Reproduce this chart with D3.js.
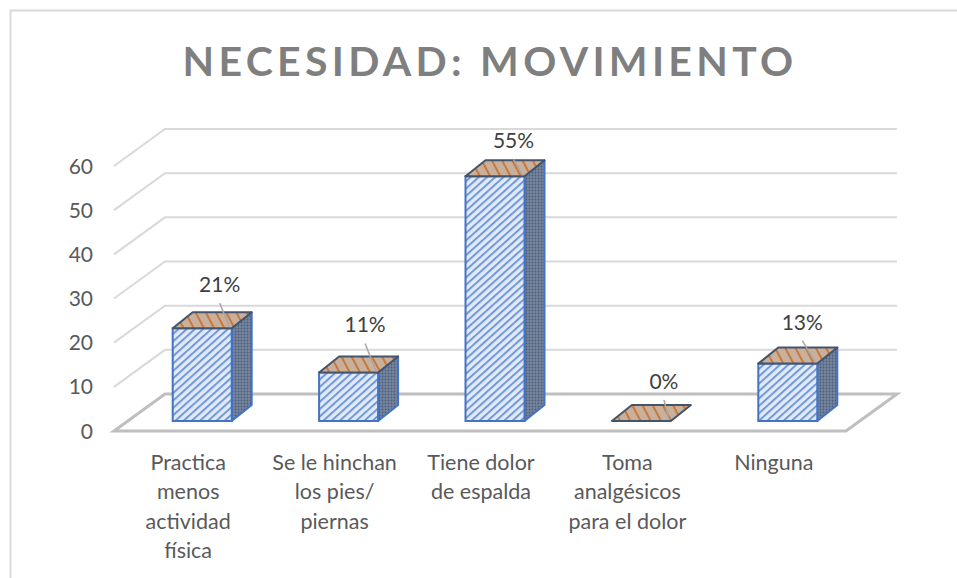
<!DOCTYPE html>
<html><head><meta charset="utf-8">
<script src="https://cdnjs.cloudflare.com/ajax/libs/d3/7.8.5/d3.min.js"></script>
<style>html,body{margin:0;padding:0;background:#fff}svg{display:block}text{font-family:Lato,"Open Sans",sans-serif}</style>
</head><body><svg id="c" width="957" height="578"></svg>
<script>
const titleText = "NECESIDAD: MOVIMIENTO";
const categories = [
  ["Practica","menos","actividad","física"],
  ["Se le hinchan","los pies/","piernas"],
  ["Tiene dolor","de espalda"],
  ["Toma","analgésicos","para el dolor"],
  ["Ninguna"]
];
const values = [21, 11, 55.4, 0, 13];
const valueLabels = ["21%", "11%", "55%", "0%", "13%"];
const yTicks = [0, 10, 20, 30, 40, 50, 60];

const labelShift = [[-12,-43],[-13,-47],[-11,-35],[-7,-39],[-15,-41]];
const svg = d3.select("#c");
const W = 957, H = 578;
const x = d3.scaleBand().domain(d3.range(categories.length)).range([114, 846]);
const y = d3.scaleLinear().domain([0, 60]).range([431, 166]);
const floor = {dx: 51, dy: -37};
const depth = {dx: 20, dy: -16};
const barInset = {dx: 15, dy: -10};
const barW = 59;

const defs = svg.append("defs");
const frontPat = defs.append("pattern").attr("id","pf").attr("width",5.5).attr("height",5.5)
  .attr("patternUnits","userSpaceOnUse").attr("patternTransform","rotate(-42)");
frontPat.append("rect").attr("width",5.5).attr("height",5.5).attr("fill","#e2eaf7");
frontPat.append("rect").attr("width",5.5).attr("height",2).attr("fill","#7199d8");
const sidePat = defs.append("pattern").attr("id","ps").attr("width",3).attr("height",3).attr("patternUnits","userSpaceOnUse");
sidePat.append("rect").attr("width",3).attr("height",3).attr("fill","#76859f");
sidePat.append("circle").attr("cx",1.5).attr("cy",1.5).attr("r",.9).attr("fill","#4d5c76");
const topPat = defs.append("pattern").attr("id","pt").attr("width",9).attr("height",9)
  .attr("patternUnits","userSpaceOnUse").attr("patternTransform","rotate(62)");
topPat.append("rect").attr("width",9).attr("height",9).attr("fill","#c8b09c");
topPat.append("rect").attr("width",9).attr("height",2).attr("fill","#c9773a");

svg.append("rect").attr("width",W).attr("height",H).attr("fill","#fff");
svg.append("path").attr("d",`M10.5 ${H}V10.5H${W}`).attr("fill","none").attr("stroke","#d9d9d9").attr("stroke-width",2);

svg.append("text").attr("x",490).attr("y",76).attr("text-anchor","middle")
  .attr("font-size",41).attr("font-weight",700).attr("letter-spacing",4.3).attr("fill","#7f7f7f").text(titleText);

// walls
const x0 = x.range()[0], x1 = x.range()[1];
svg.append("g").selectAll("path").data(yTicks.filter(t=>t>0)).join("path")
  .attr("d",t=>`M${x0} ${y(t)}L${x0+floor.dx} ${y(t)+floor.dy}H${x1+floor.dx}`)
  .attr("fill","none").attr("stroke","#d9d9d9").attr("stroke-width",2);
// floor
svg.append("path").attr("d",`M${x0} ${y(0)}H${x1}L${x1+floor.dx} ${y(0)+floor.dy}H${x0+floor.dx}Z`)
  .attr("fill","none").attr("stroke","#bfbfbf").attr("stroke-width",3);

svg.append("g").selectAll("text").data(yTicks).join("text")
  .attr("x",93).attr("y",t=>y(t)+7.5).attr("text-anchor","end").attr("font-size",21).attr("fill","#595959").text(t=>t);

// bars
const bars = svg.append("g").selectAll("g").data(values).join("g");
const L = i => x(i)+x.bandwidth()/2-barW/2+barInset.dx;
const B = barInset.dy;
bars.filter(v=>v>0).append("path")
  .attr("d",function(v){const i=values.indexOf(v);const r=L(i)+barW;const t=y(v)+B;const b=y(0)+B;
    return `M${r} ${t}L${r+depth.dx} ${t+depth.dy}V${b+depth.dy}L${r} ${b}Z`;})
  .attr("fill","url(#ps)").attr("stroke","#4472c4").attr("stroke-width",2).attr("stroke-linejoin","round");
bars.filter(v=>v>0).append("rect")
  .attr("x",v=>L(values.indexOf(v))).attr("y",v=>y(v)+B).attr("width",barW).attr("height",v=>y(0)-y(v))
  .attr("fill","url(#pf)").attr("stroke","#4472c4").attr("stroke-width",2);
bars.append("path")
  .attr("d",(v,i)=>{const l=L(i);const t=y(v)+B;
    return `M${l} ${t}H${l+barW}L${l+barW+depth.dx} ${t+depth.dy}H${l+depth.dx}Z`;})
  .attr("fill","url(#pt)").attr("stroke","#44546a").attr("stroke-width",2).attr("stroke-linejoin","round");

// leaders + labels
bars.append("line")
  .attr("x1",(v,i)=>L(i)+barW+labelShift[i][0]).attr("y1",(v,i)=>y(v)+B+labelShift[i][1]+18)
  .attr("x2",(v,i)=>L(i)+barW-2).attr("y2",v=>y(v)+B-1)
  .attr("stroke","#a6a6a6").attr("stroke-width",1.5);
bars.append("text")
  .attr("x",(v,i)=>L(i)+barW+labelShift[i][0]).attr("y",(v,i)=>y(v)+B+labelShift[i][1]+7)
  .attr("text-anchor","middle").attr("font-size",21).attr("fill","#404040").text((v,i)=>valueLabels[i]);

// categories
const cat = svg.append("g").selectAll("text").data(categories).join("text")
  .attr("text-anchor","middle").attr("font-size",21.5).attr("fill","#595959");
cat.selectAll("tspan").data((d,i)=>d.map((s,j)=>({s,j,i}))).join("tspan")
  .attr("x",d=>x(d.i)+x.bandwidth()/2+1).attr("y",d=>470+d.j*29.3).text(d=>d.s);
</script></body></html>
